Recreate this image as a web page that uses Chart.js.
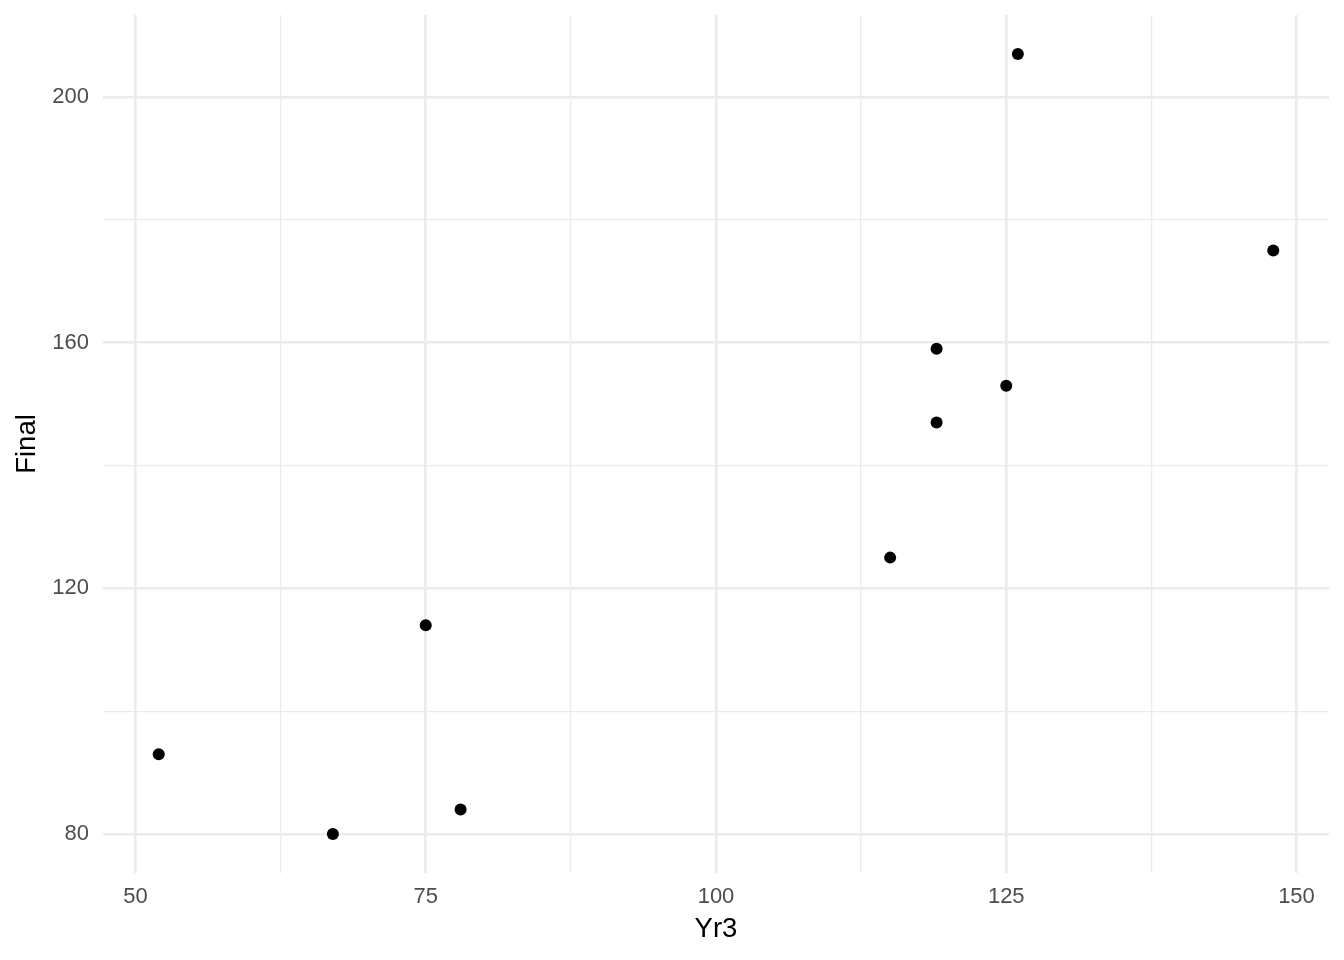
<!DOCTYPE html>
<html>
<head>
<meta charset="utf-8">
<script src="https://cdn.jsdelivr.net/npm/chart.js@4"></script>
<style>
  html, body { margin: 0; padding: 0; background: #fff; }
  #wrap { width: 1344px; height: 960px; }
</style>
</head>
<body>
<div id="wrap"><canvas id="myChart" width="1344" height="960"></canvas></div>
<script>
// Yr3 vs Final scores
const yr3 = [52, 67, 75, 78, 115, 119, 119, 125, 126, 148];
const finalScores = [93, 80, 114, 84, 125, 159, 147, 153, 207, 175];

const xTicks = [50, 62.5, 75, 87.5, 100, 112.5, 125, 137.5, 150];
const xLabels = [50, 75, 100, 125, 150];
const yTicks = [80, 100, 120, 140, 160, 180, 200];
const yLabels = [80, 120, 160, 200];

const points = yr3.map((x, i) => ({ x: x, y: finalScores[i] }));

const gridWidth = (labels) => (ctx) =>
    labels.includes(ctx.tick && ctx.tick.value) ? 2.6 : 1.3;

const ctx = document.getElementById('myChart').getContext('2d');
const chart = new Chart(ctx, {
    type: 'scatter',
    data: {
        datasets: [{
            data: points,
            backgroundColor: '#000000',
            borderColor: '#000000',
            pointRadius: 6,
            pointHoverRadius: 6,
            borderWidth: 0
        }]
    },
    options: {
        responsive: false,
        animation: false,
        layout: { padding: { top: 15, right: 15, bottom: 0, left: 0 } },
        plugins: { legend: { display: false }, tooltip: { enabled: false } },
        scales: {
            x: {
                type: 'linear',
                min: 47.2,
                max: 152.8,
                afterBuildTicks: (scale) => { scale.ticks = xTicks.map(v => ({ value: v })); },
                afterFit: (scale) => {
                    scale.height = 87;
                    scale.paddingLeft = 0;
                    scale.paddingRight = 0;
                },
                border: { display: false },
                grid: { color: '#EBEBEB', lineWidth: gridWidth(xLabels), drawTicks: false },
                ticks: {
                    padding: 11,
                    color: '#4D4D4D',
                    font: { family: 'Liberation Sans', size: 22 },
                    maxRotation: 0,
                    autoSkip: false,
                    callback: (v) => xLabels.includes(v) ? String(v) : ''
                },
                title: {
                    display: true,
                    text: 'Yr3',
                    color: '#000000',
                    font: { family: 'Liberation Sans', size: 27.5 },
                    padding: { top: 0, bottom: 14 }
                }
            },
            y: {
                type: 'linear',
                min: 73.65,
                max: 213.35,
                afterBuildTicks: (scale) => { scale.ticks = yTicks.map(v => ({ value: v })); },
                afterFit: (scale) => {
                    scale.width = 103;
                    scale.paddingTop = 0;
                    scale.paddingBottom = 0;
                },
                border: { display: false },
                grid: { color: '#EBEBEB', lineWidth: gridWidth(yLabels), drawTicks: false },
                ticks: {
                    padding: 14,
                    color: '#4D4D4D',
                    font: { family: 'Liberation Sans', size: 22 },
                    autoSkip: false,
                    callback: (v) => yLabels.includes(v) ? String(v) : ''
                },
                title: {
                    display: true,
                    text: 'Final',
                    color: '#000000',
                    font: { family: 'Liberation Sans', size: 27.5 },
                    padding: { top: 11, bottom: 0 }
                }
            }
        }
    }
});
</script>
</body>
</html>
